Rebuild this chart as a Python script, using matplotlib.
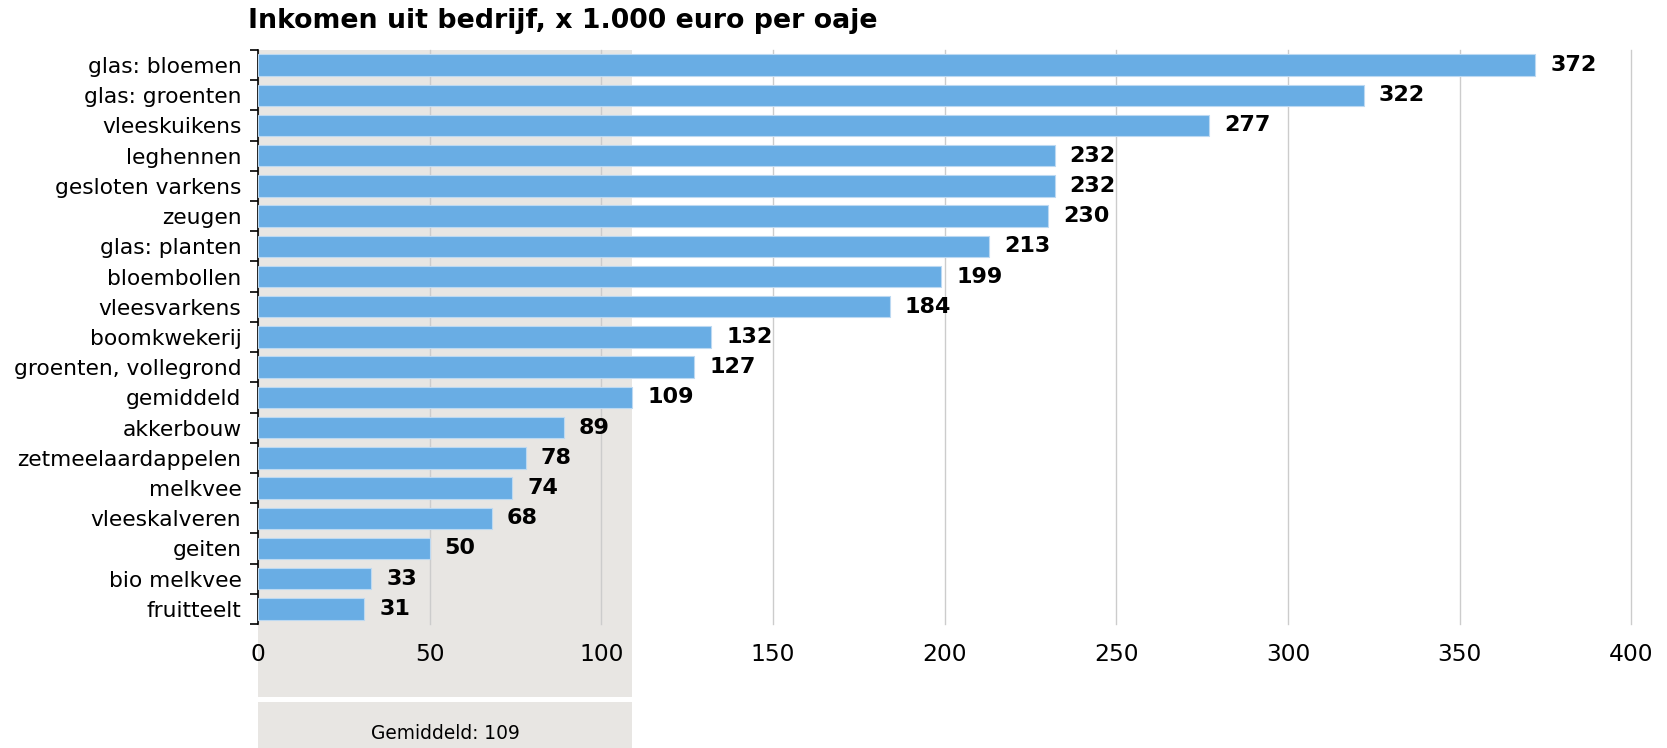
import matplotlib.pyplot as plt
from matplotlib.patches import Rectangle

plt.rcParams['font.family'] = ['DejaVu Sans']

categories = ['glas: bloemen', 'glas: groenten', 'vleeskuikens', 'leghennen',
              'gesloten varkens', 'zeugen', 'glas: planten', 'bloembollen',
              'vleesvarkens', 'boomkwekerij', 'groenten, vollegrond', 'gemiddeld',
              'akkerbouw', 'zetmeelaardappelen', 'melkvee', 'vleeskalveren',
              'geiten', 'bio melkvee', 'fruitteelt']
values = [372, 322, 277, 232, 232, 230, 213, 199, 184, 132, 127, 109,
          89, 78, 74, 68, 50, 33, 31]
average = 109
xticks = [0, 50, 100, 150, 200, 250, 300, 350, 400]

bar_color = '#69ade4'
band_color = '#e8e6e3'

fig = plt.figure(figsize=(16.67, 7.48), dpi=100)
ax = fig.add_axes([0.1548, 0.1658, 0.8239, 0.7674])

y = list(range(len(categories)))
ax.barh(y, values, height=0.71, color=bar_color, edgecolor='#bcd9f2',
        linewidth=0.8, zorder=3)

for yi, v in zip(y, values):
    ax.annotate(str(v), (v, yi), xytext=(15, 0), textcoords='offset pixels',
                va='center', ha='left', fontsize=16, fontweight='bold', zorder=4)

ax.set_ylim(len(categories) - 0.5, -0.5)
ax.set_xlim(0, 400)

# grey band up to the average, running below the axis
ax.axvspan(0, average, ymin=-0.127, ymax=1, color=band_color, zorder=0,
           clip_on=False, lw=0)
ax.add_patch(Rectangle((0, -0.2157), average, 0.0802, color=band_color, lw=0,
                       transform=ax.get_xaxis_transform(), clip_on=False))
ax.text(average / 2, -0.19, 'Gemiddeld: ' + str(average),
        transform=ax.get_xaxis_transform(), ha='center', va='center', fontsize=13.4)

ax.set_xticks(xticks)
ax.set_xticklabels([str(t) for t in xticks], fontsize=16.8)
ax.tick_params(axis='x', length=0, pad=14)
ax.grid(axis='x', color='#cccccc', linewidth=1, zorder=1)
for gl in ax.get_xgridlines():
    gl.set_clip_on(False)

ax.set_yticks([i - 0.5 for i in range(len(categories) + 1)], minor=False)
ax.set_yticklabels([])
ax.set_yticks(y, minor=True)
ax.set_yticklabels(categories, minor=True, fontsize=15.7)
ax.tick_params(axis='y', which='minor', length=0, pad=12)
ax.tick_params(axis='y', which='major', length=6, width=1.2, color='black')

for s in ['top', 'right', 'bottom']:
    ax.spines[s].set_visible(False)
ax.spines['left'].set_linewidth(1.2)
ax.set_facecolor('none')

fig.text(0.1488, 0.972, 'Inkomen uit bedrijf, x 1.000 euro per oaje',
         fontsize=19.3, fontweight='bold', ha='left', va='center')

fig.savefig('out.png', dpi=100)
